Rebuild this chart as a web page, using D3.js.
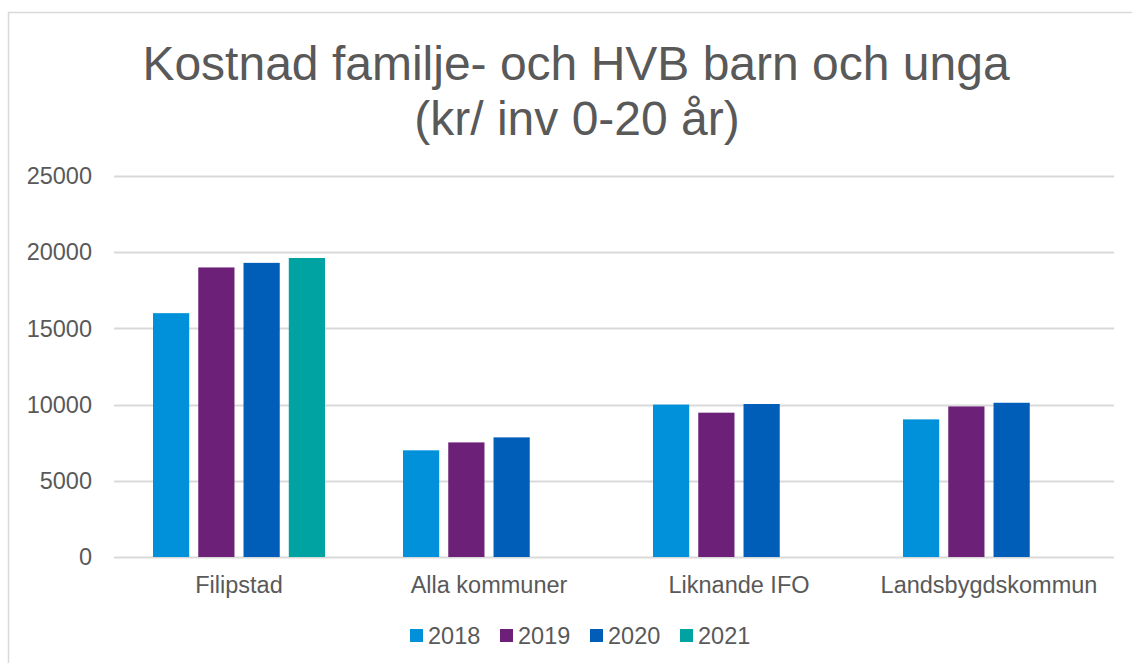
<!DOCTYPE html>
<html>
<head>
<meta charset="utf-8">
<script src="https://cdn.jsdelivr.net/npm/d3@7"></script>
<style>
  html, body { margin: 0; padding: 0; background: #fff; }
  svg { display: block; font-family: Arial, "Liberation Sans", sans-serif; }
</style>
</head>
<body>
<svg id="chart" width="1132" height="663"></svg>
<script>
const categories = ["Filipstad", "Alla kommuner", "Liknande IFO", "Landsbygdskommun"];
const years = ["2018", "2019", "2020", "2021"];
const v2018 = [16000, 7000, 10000, 9030];
const v2019 = [19000, 7520, 9470, 9880];
const v2020 = [19300, 7850, 10040, 10120];
const v2021 = [19620, null, null, null];
const yTicks = [0, 5000, 10000, 15000, 20000, 25000];
const colors = ["#0091DA", "#6D2077", "#005EB8", "#00A3A1"];

const series = [v2018, v2019, v2020, v2021];
const textColor = "#595959";
const gridColor = "#d9d9d9";

const svg = d3.select("#chart");

// outer chart frame
svg.append("rect")
  .attr("x", 8.5).attr("y", 12.5)
  .attr("width", 1200).attr("height", 700)
  .attr("fill", "#fff")
  .attr("stroke", gridColor)
  .attr("stroke-width", 1.5);

// title
const title = svg.append("text")
  .attr("text-anchor", "middle")
  .attr("fill", textColor)
  .style("font-size", "48px");
title.append("tspan").attr("x", 576).attr("y", 80).text("Kostnad familje- och HVB barn och unga");
title.append("tspan").attr("x", 577).attr("y", 135).text("(kr/ inv 0-20 år)");

const plot = { left: 114, right: 1114, top: 176, bottom: 557 };

const x0 = d3.scaleBand()
  .domain(categories)
  .range([plot.left, plot.right])
  .padding(0);

const x1 = d3.scaleBand()
  .domain(years)
  .range([39, 211])
  .paddingInner(0.2)
  .paddingOuter(0);

const y = d3.scaleLinear()
  .domain([0, 25000])
  .range([plot.bottom, plot.top]);

// gridlines
svg.append("g")
  .selectAll("line")
  .data(yTicks)
  .join("line")
  .attr("x1", plot.left).attr("x2", plot.right)
  .attr("y1", d => Math.round(y(d)) + 0.5)
  .attr("y2", d => Math.round(y(d)) + 0.5)
  .attr("stroke", gridColor)
  .attr("stroke-width", 2);

// y labels
svg.append("g")
  .selectAll("text")
  .data(yTicks)
  .join("text")
  .attr("x", 92)
  .attr("y", d => y(d))
  .attr("dy", "0.35em")
  .attr("text-anchor", "end")
  .attr("fill", textColor)
  .style("font-size", "23.5px")
  .text(d => d);

// bars
const rows = categories.map((c, i) => ({
  category: c,
  values: years.map((yr, j) => ({ year: yr, value: series[j][i], color: colors[j] }))
}));

const groups = svg.append("g")
  .selectAll("g")
  .data(rows)
  .join("g")
  .attr("transform", d => `translate(${x0(d.category)},0)`);

groups.selectAll("rect")
  .data(d => d.values.filter(v => v.value != null))
  .join("rect")
  .attr("x", d => x1(d.year))
  .attr("width", x1.bandwidth())
  .attr("y", d => y(d.value))
  .attr("height", d => y(0) - y(d.value))
  .attr("fill", d => d.color);

// category labels
svg.append("g")
  .selectAll("text")
  .data(categories)
  .join("text")
  .attr("x", d => x0(d) + x0.bandwidth() / 2)
  .attr("y", 593)
  .attr("text-anchor", "middle")
  .attr("fill", textColor)
  .style("font-size", "23.5px")
  .text(d => d);

// legend
const legend = svg.append("g")
  .selectAll("g")
  .data(years)
  .join("g")
  .attr("transform", (d, i) => `translate(${410 + i * 90},0)`);

legend.append("rect")
  .attr("x", 0).attr("y", 629)
  .attr("width", 13).attr("height", 13)
  .attr("fill", (d, i) => colors[i]);

legend.append("text")
  .attr("x", 18)
  .attr("y", 644)
  .attr("fill", textColor)
  .style("font-size", "23.5px")
  .text(d => d);
</script>
</body>
</html>
